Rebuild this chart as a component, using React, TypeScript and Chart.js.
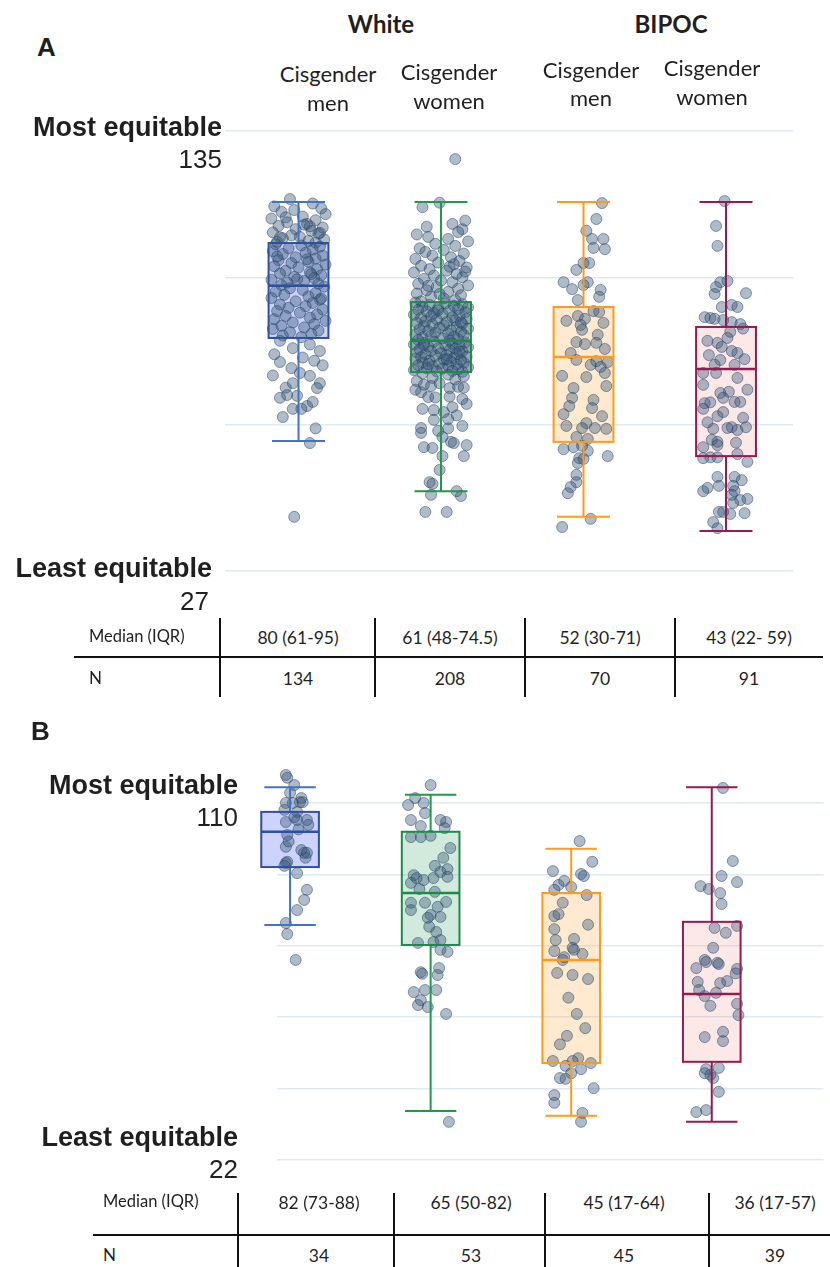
import React, { useEffect, useRef } from 'react';
import { Chart, registerables } from 'chart.js';

Chart.register(...registerables);

type Pt = [number, number];

// ---------- labels ----------
const raceHeaders = ['White', 'BIPOC'];
const genderHeaders: string[][] = [
  ['Cisgender', 'men'],
  ['Cisgender', 'women'],
  ['Cisgender', 'men'],
  ['Cisgender', 'women'],
];
const topAxisName = 'Most equitable';
const bottomAxisName = 'Least equitable';

// ---------- panel A ----------
const aTickValues = [27, 63, 99, 135];
const aTopLabel = '135';
const aBottomLabel = '27';
const aMin = [58.9, 46.6, 40.3, 36.8];
const aQ1 = [84.2, 75.8, 58.7, 55.2];
const aMed = [97.0, 83.5, 79.5, 76.6];
const aQ3 = [107.5, 93.0, 91.8, 86.9];
const aMax = [117.6, 117.6, 117.6, 117.6];
const aMedianIqr = ['80 (61-95)', '61 (48-74.5)', '52 (30-71)', '43 (22- 59)'];
const aN = ['134', '208', '70', '91'];

// jittered points: [x offset from group, value]
const aWhiteMen: Pt[] = [
  [-0.06, 118.3], [0.10, 117.2], [-0.17, 116.5], [0.16, 116.0], [-0.12, 115.2], [0.19, 114.6], [0.03, 114.0], [-0.19, 113.5],
  [0.12, 113.1], [-0.08, 112.6], [0.06, 112.2], [-0.14, 111.7], [0.17, 111.3], [-0.02, 110.9], [0.09, 110.5], [-0.18, 110.1],
  [0.14, 109.8], [-0.05, 109.4], [0.01, 109.0], [-0.11, 108.7], [0.18, 108.4], [0.07, 108.0], [-0.15, 107.8], [0.12, 107.6],
  [-0.09, 113.8], [0.04, 112.0], [-0.03, 115.6], [0.15, 110.0], [-0.13, 108.9], [0.08, 111.6],
  [-0.16, 107.2], [0.02, 106.9], [0.15, 106.6], [-0.07, 106.2], [0.10, 105.9], [-0.18, 105.5], [0.05, 105.1], [-0.11, 104.8],
  [0.17, 104.4], [-0.02, 104.0], [0.12, 103.7], [-0.14, 103.3], [0.07, 102.9], [-0.05, 102.6], [0.19, 102.2], [-0.17, 101.8],
  [0.00, 101.5], [0.13, 101.1], [-0.09, 100.7], [0.08, 100.3], [-0.13, 100.0], [0.16, 99.6], [-0.03, 99.2], [0.11, 98.9],
  [-0.19, 98.5], [0.04, 98.2], [-0.08, 97.8], [0.14, 97.5], [-0.12, 97.2], [0.06, 103.5], [-0.15, 104.2], [0.09, 99.9], [-0.01, 98.6],
  [0.18, 96.8], [-0.06, 96.4], [0.03, 96.0], [-0.16, 95.6], [0.12, 95.2], [-0.10, 94.8], [0.07, 94.4], [-0.19, 94.0],
  [0.15, 93.6], [-0.02, 93.2], [0.10, 92.8], [-0.13, 92.4], [0.05, 92.0], [-0.07, 91.6], [0.17, 91.2], [-0.15, 90.8],
  [0.01, 90.4], [0.13, 90.0], [-0.09, 89.6], [0.08, 89.2], [-0.17, 88.8], [0.19, 88.4], [-0.04, 88.0], [0.11, 87.6],
  [-0.12, 87.2], [0.04, 86.8], [-0.18, 86.4], [0.14, 86.0], [-0.06, 85.6], [0.09, 85.2], [-0.11, 84.8], [0.02, 84.4], [0.16, 93.9],
  [-0.13, 83.5], [0.08, 82.6], [-0.04, 81.7], [0.15, 81.0], [-0.17, 80.2], [0.03, 79.4], [0.11, 78.6], [-0.13, 78.3],
  [-0.05, 76.8], [0.01, 75.6], [0.08, 74.9], [0.15, 73.1], [-0.04, 73.1], [0.13, 71.9], [-0.08, 70.2], [-0.13, 69.5],
  [-0.01, 70.0], [0.06, 67.5], [-0.04, 66.8], [0.02, 66.8], [-0.11, 64.8], [0.17, 77.5], [-0.18, 75.0], [0.10, 68.5],
  [0.08, 58.4], [-0.03, 40.3], [0.12, 62.0], [-0.09, 72.0],
];
const aWhiteWomen: Pt[] = [
  [0.10, 128.1],
  [-0.13, 116.3], [-0.01, 117.4], [0.17, 113.0], [0.08, 112.2], [-0.10, 111.5], [0.15, 110.9], [0.12, 110.2], [-0.17, 109.6],
  [-0.09, 109.0], [0.05, 108.5], [0.19, 107.9], [-0.04, 107.3], [0.10, 106.8], [-0.15, 106.2], [0.02, 105.8], [-0.11, 105.3],
  [0.16, 104.9], [-0.06, 104.4], [0.07, 104.0], [-0.18, 103.6], [0.13, 103.1], [-0.02, 102.7], [0.09, 102.3], [-0.14, 101.9],
  [0.18, 101.5], [-0.08, 101.1], [0.04, 100.7], [-0.19, 100.3], [0.11, 99.9], [-0.05, 99.5], [0.15, 99.1], [-0.12, 98.7],
  [0.00, 98.3], [0.08, 97.9], [-0.16, 97.5], [0.19, 97.1], [-0.03, 96.7], [0.12, 96.3], [-0.10, 95.9], [0.05, 95.5],
  [-0.17, 95.1], [0.14, 94.7], [-0.07, 94.3], [0.02, 93.9], [0.10, 93.5], [-0.14, 93.2], [0.17, 100.5], [-0.09, 97.0], [0.06, 101.7], [-0.01, 95.0],
  [-0.18, 92.9], [0.03, 92.7], [0.15, 92.5], [-0.08, 92.3], [0.09, 92.1], [-0.13, 91.9], [0.19, 91.7], [-0.02, 91.5],
  [0.12, 91.3], [-0.16, 91.1], [0.06, 90.9], [-0.10, 90.7], [0.17, 90.5], [-0.05, 90.3], [0.01, 90.1], [-0.19, 89.9],
  [0.13, 89.7], [-0.07, 89.5], [0.08, 89.3], [-0.14, 89.1], [0.18, 88.9], [-0.03, 88.7], [0.10, 88.5], [-0.11, 88.3],
  [0.04, 88.1], [-0.17, 87.9], [0.15, 87.7], [-0.06, 87.5], [0.02, 87.3], [-0.12, 87.1], [0.11, 86.9], [-0.01, 86.7],
  [0.19, 86.5], [-0.15, 86.3], [0.07, 86.1], [-0.09, 85.9], [0.14, 85.7], [-0.04, 85.5], [0.05, 85.3], [-0.18, 85.1],
  [0.16, 84.9], [-0.07, 84.7], [0.09, 84.5], [-0.13, 84.3], [0.01, 84.1], [0.12, 83.9], [-0.16, 83.7], [0.06, 83.6], [-0.02, 91.0], [0.14, 88.0],
  [-0.05, 83.3], [0.17, 83.1], [-0.12, 83.0], [0.08, 82.8], [-0.19, 82.6], [0.03, 82.4], [0.13, 82.3], [-0.09, 82.1],
  [0.19, 81.9], [-0.02, 81.7], [0.10, 81.6], [-0.15, 81.4], [0.06, 81.2], [-0.07, 81.0], [0.15, 80.9], [-0.17, 80.7],
  [0.00, 80.5], [0.11, 80.3], [-0.11, 80.2], [0.04, 80.0], [-0.04, 79.8], [0.18, 79.6], [-0.14, 79.5], [0.09, 79.3],
  [-0.18, 79.1], [0.02, 78.9], [0.14, 78.8], [-0.08, 78.6], [0.07, 78.4], [-0.13, 78.2], [0.16, 78.1], [-0.01, 77.9],
  [0.11, 77.7], [-0.16, 77.5], [0.05, 77.4], [-0.06, 77.2], [0.19, 77.0], [-0.10, 76.8], [0.01, 76.7], [0.12, 76.5],
  [-0.19, 76.3], [0.08, 76.1], [-0.03, 76.0], [0.15, 75.9], [-0.12, 82.5], [0.04, 79.0], [-0.09, 77.8], [0.13, 80.8],
  [-0.13, 75.5], [0.05, 75.2], [0.16, 74.8], [-0.06, 74.4], [0.10, 74.0], [-0.17, 73.6], [-0.12, 72.7], [-0.07, 72.4],
  [-0.01, 73.1], [0.06, 71.9], [0.12, 72.2], [0.16, 72.0], [-0.14, 70.9], [-0.09, 69.7], [-0.04, 69.6], [0.06, 69.8],
  [0.15, 69.2], [-0.13, 66.8], [-0.05, 66.5], [0.02, 66.0], [0.08, 67.2], [-0.05, 64.1], [0.05, 64.3], [-0.14, 62.1],
  [-0.14, 60.9], [-0.02, 61.4], [0.05, 62.0], [0.15, 62.6], [0.01, 59.9], [0.07, 58.7], [0.09, 58.4], [0.18, 57.9],
  [-0.12, 57.4], [-0.06, 57.2], [0.16, 55.2], [0.01, 55.2], [-0.01, 51.8], [-0.08, 48.8], [-0.06, 48.4], [0.11, 46.6],
  [0.14, 45.4], [-0.07, 45.7], [-0.11, 41.5], [0.04, 41.5], [0.18, 68.0], [-0.18, 71.5], [0.11, 65.2],
];
const aBipocMen: Pt[] = [
  [0.13, 117.3], [0.09, 113.4], [0.02, 110.5], [0.06, 108.5], [0.14, 108.5], [0.07, 106.3], [0.15, 106.0], [0.00, 102.6],
  [0.04, 102.6], [-0.05, 100.9], [-0.14, 97.9], [-0.08, 96.2], [0.00, 97.2], [0.03, 97.9], [0.12, 96.0], [0.11, 94.3],
  [-0.04, 93.5], [0.07, 90.8], [0.11, 90.6], [-0.04, 89.6], [0.01, 88.9], [-0.12, 88.4], [0.14, 87.9], [-0.02, 87.4],
  [-0.01, 86.2], [-0.05, 83.2], [0.01, 82.7], [0.09, 83.0], [0.15, 81.5], [-0.05, 78.8], [0.09, 78.5], [0.17, 78.3],
  [0.05, 77.6], [0.12, 77.1], [0.15, 75.6], [-0.15, 74.9], [0.02, 74.6], [-0.07, 71.9], [-0.08, 69.5], [0.07, 69.0],
  [-0.10, 67.5], [0.06, 67.0], [-0.14, 65.5], [0.16, 72.4], [0.02, 63.3], [-0.12, 62.6], [-0.01, 62.1], [0.08, 62.1],
  [0.16, 61.9], [-0.05, 59.9], [0.03, 59.4], [-0.14, 56.9], [-0.07, 57.4], [-0.01, 57.7], [0.03, 56.5], [0.17, 55.2],
  [-0.03, 54.7], [0.00, 54.5], [-0.04, 53.5], [-0.05, 50.6], [-0.05, 48.8], [-0.09, 47.6], [-0.11, 46.1], [0.05, 39.8],
  [-0.15, 37.8], [0.10, 85.0], [-0.09, 80.5], [0.13, 65.0],
];
const aBipocWomen: Pt[] = [
  [-0.01, 117.8], [-0.07, 111.7], [-0.06, 106.8], [-0.04, 97.9], [0.01, 98.2], [-0.07, 96.7], [-0.08, 95.0], [0.14, 95.2],
  [-0.03, 91.8], [0.04, 92.3], [0.08, 91.8], [-0.15, 89.3], [-0.11, 89.1], [-0.08, 88.9], [-0.02, 88.6], [0.04, 88.1],
  [0.10, 87.6], [0.03, 85.7], [0.01, 84.2], [-0.13, 83.5], [-0.06, 83.0], [-0.03, 82.0], [0.04, 81.0], [0.08, 80.5],
  [0.13, 79.0], [-0.04, 78.8], [-0.08, 77.6], [0.06, 77.6], [-0.16, 75.6], [-0.07, 75.6], [0.08, 74.4], [-0.16, 72.7],
  [-0.04, 70.7], [0.02, 71.0], [-0.02, 69.5], [0.06, 68.5], [0.10, 68.5], [-0.15, 68.2], [-0.11, 68.4], [-0.16, 66.8],
  [-0.06, 65.0], [0.12, 64.6], [0.04, 62.3], [-0.09, 61.9], [0.01, 62.1], [0.08, 61.6], [0.14, 62.3], [-0.10, 59.2],
  [-0.06, 58.7], [-0.16, 57.4], [-0.06, 57.9], [0.08, 55.7], [-0.16, 54.7], [-0.11, 54.9], [-0.06, 54.9], [0.15, 53.8],
  [-0.06, 50.1], [0.06, 50.1], [0.11, 49.3], [-0.05, 47.9], [-0.13, 47.4], [-0.16, 46.6], [0.05, 47.9], [0.06, 46.6],
  [0.04, 45.7], [0.10, 44.4], [0.15, 44.7], [0.05, 43.7], [-0.05, 41.5], [0.03, 41.0], [-0.02, 41.5], [0.13, 41.2],
  [-0.09, 39.0], [-0.06, 37.5], [0.12, 86.5], [-0.12, 80.0], [0.15, 71.5], [-0.02, 66.0], [0.07, 58.5], [-0.13, 63.5],
];

// ---------- panel B ----------
const bTickValues = [22, 39.6, 57.2, 74.8, 92.4, 110];
const bTopLabel = '110';
const bBottomLabel = '22';
const bMin = [79.9, 34.1, 32.9, 31.4];
const bQ1 = [94.2, 75.0, 45.9, 46.2];
const bMed = [102.9, 87.8, 71.3, 62.9];
const bQ3 = [107.8, 102.9, 87.8, 80.7];
const bMax = [113.9, 112.0, 98.7, 113.9];
const bMedianIqr = ['82 (73-88)', '65 (50-82)', '45 (17-64)', '36 (17-57)'];
const bN = ['34', '53', '45', '39'];

const bWhiteMen: Pt[] = [
  [-0.03, 116.9], [-0.02, 116.2], [0.03, 114.4], [0.08, 111.2], [0.07, 110.2], [-0.03, 110.0], [0.02, 110.0], [0.09, 110.2],
  [-0.04, 108.3], [0.05, 107.8], [-0.03, 105.3], [0.05, 105.8], [0.12, 105.8], [0.13, 104.6], [-0.02, 102.1], [-0.03, 99.2],
  [0.08, 98.4], [0.10, 97.7], [0.12, 97.7], [-0.02, 95.5], [-0.03, 95.2], [0.05, 92.7], [0.12, 88.6], [0.10, 86.1],
  [0.05, 83.6], [-0.03, 80.4], [-0.02, 77.7], [0.04, 71.3], [0.00, 112.5], [0.06, 103.5], [-0.01, 100.5], [0.11, 96.5],
  [0.03, 106.5], [-0.04, 94.5],
];
const bWhiteWomen: Pt[] = [
  [0.00, 114.4], [-0.16, 109.5], [-0.11, 111.2], [-0.05, 110.0], [-0.04, 107.5], [-0.14, 105.8], [-0.07, 104.3], [0.07, 105.8],
  [0.11, 105.3], [0.10, 103.8], [-0.14, 101.6], [-0.07, 101.6], [0.00, 101.9], [0.14, 98.9], [0.03, 94.5], [0.12, 93.7],
  [-0.12, 92.2], [-0.10, 91.5], [-0.05, 91.0], [0.02, 91.5], [0.07, 93.0], [0.12, 91.8], [-0.14, 90.3], [0.03, 88.1],
  [-0.14, 85.4], [-0.04, 85.4], [0.05, 84.4], [0.11, 85.6], [-0.14, 83.6], [0.00, 82.4], [-0.02, 81.7], [0.07, 81.9],
  [0.04, 78.2], [-0.09, 75.5], [0.02, 75.7], [0.07, 76.2], [0.07, 73.8], [0.12, 73.3], [-0.07, 68.3], [0.06, 69.3],
  [-0.06, 67.9], [0.05, 67.6], [-0.12, 63.4], [-0.04, 63.9], [0.04, 63.9], [-0.07, 61.4], [-0.09, 60.2], [-0.02, 59.7],
  [0.11, 58.0], [0.13, 31.4], [-0.08, 88.8], [0.09, 96.5], [-0.01, 79.5],
];
const bBipocMen: Pt[] = [
  [0.06, 100.6], [0.15, 95.5], [-0.13, 93.2], [0.07, 92.5], [0.09, 92.0], [-0.05, 90.8], [-0.09, 89.8], [0.00, 89.3],
  [-0.12, 88.6], [0.11, 87.3], [-0.06, 85.4], [-0.12, 82.1], [-0.09, 82.6], [-0.12, 78.9], [-0.11, 76.2], [0.02, 76.5],
  [0.01, 74.3], [0.08, 72.8], [-0.12, 73.5], [-0.05, 72.0], [0.02, 73.8], [-0.06, 71.3], [-0.10, 68.1], [0.01, 67.6],
  [0.12, 66.6], [0.10, 54.5], [-0.03, 52.6], [-0.13, 46.4], [0.05, 47.1], [0.01, 46.4], [0.14, 45.9], [-0.04, 45.2],
  [0.07, 44.4], [0.00, 43.4], [-0.08, 42.2], [-0.04, 42.0], [0.16, 39.7], [-0.12, 38.0], [-0.12, 36.1], [0.08, 33.6],
  [0.07, 31.4], [-0.02, 62.0], [0.04, 58.0], [-0.08, 50.5], [0.12, 80.0],
];
const bBipocWomen: Pt[] = [
  [0.08, 113.7], [0.15, 95.7], [0.07, 92.0], [-0.08, 89.5], [-0.02, 88.8], [0.06, 87.8], [0.18, 90.5], [0.07, 85.1],
  [0.02, 79.2], [0.10, 78.0], [0.18, 79.7], [0.01, 74.3], [-0.05, 71.3], [0.04, 70.6], [-0.11, 69.3], [0.18, 69.1],
  [-0.04, 70.8], [0.05, 70.3], [0.17, 68.0], [-0.10, 65.9], [0.06, 65.6], [0.11, 66.1], [-0.09, 63.9], [0.03, 63.2],
  [-0.05, 62.4], [-0.01, 60.0], [0.18, 60.5], [0.19, 57.7], [-0.05, 52.3], [0.08, 53.6], [0.08, 51.3], [-0.04, 44.4],
  [0.05, 44.7], [-0.05, 43.4], [-0.01, 43.0], [0.01, 42.2], [0.05, 38.8], [-0.11, 33.8], [-0.04, 34.3],
];

// ---------- styles ----------
const boxLineColors = ['#2F50A0', '#1E8A48', '#FF9A1A', '#961A52'];
const whiskerColors = ['#4472C4', '#1E9A4C', '#FF9A1A', '#961A52'];
const boxFillColors = ['rgba(110,130,245,0.35)', 'rgba(30,150,75,0.2)', 'rgba(255,150,20,0.2)', 'rgba(240,100,100,0.15)'];
const pointFill = 'rgba(55,85,120,0.4)';
const pointBorder = 'rgba(35,65,100,0.5)';
const gridColor = 'rgba(205,222,230,0.65)';
const textColor = '#1f1f1f';
const sansCal = 'Lato, "Open Sans", sans-serif';
const sansArial = '"Liberation Sans", Arial, sans-serif';

function makeBoxPlugin(id: string, mins: number[], q1s: number[], meds: number[], q3s: number[], maxs: number[], boxW: number, capW: number) {
  return {
    id,
    beforeDatasetsDraw(chart: any) {
      const { ctx } = chart;
      const xs = chart.scales.x;
      const ys = chart.scales.y;
      ctx.save();
      meds.forEach((_m, i) => {
        const c = xs.getPixelForValue(i + 1);
        const hw = xs.getPixelForValue(i + 1 + boxW / 2) - c;
        const t = ys.getPixelForValue(q3s[i]);
        const b = ys.getPixelForValue(q1s[i]);
        ctx.fillStyle = boxFillColors[i];
        ctx.fillRect(c - hw, t, hw * 2, b - t);
      });
      ctx.restore();
    },
    afterDatasetsDraw(chart: any) {
      const { ctx } = chart;
      const xs = chart.scales.x;
      const ys = chart.scales.y;
      ctx.save();
      meds.forEach((m, i) => {
        const c = xs.getPixelForValue(i + 1);
        const hw = xs.getPixelForValue(i + 1 + boxW / 2) - c;
        const hc = xs.getPixelForValue(i + 1 + capW / 2) - c;
        const pMax = ys.getPixelForValue(maxs[i]);
        const pQ3 = ys.getPixelForValue(q3s[i]);
        const pMed = ys.getPixelForValue(m);
        const pQ1 = ys.getPixelForValue(q1s[i]);
        const pMin = ys.getPixelForValue(mins[i]);
        ctx.strokeStyle = whiskerColors[i];
        ctx.lineWidth = 2;
        ctx.beginPath();
        ctx.moveTo(c, pQ3); ctx.lineTo(c, pMax);
        ctx.moveTo(c - hc, pMax); ctx.lineTo(c + hc, pMax);
        ctx.moveTo(c, pQ1); ctx.lineTo(c, pMin);
        ctx.moveTo(c - hc, pMin); ctx.lineTo(c + hc, pMin);
        ctx.stroke();
        ctx.strokeStyle = boxLineColors[i];
        ctx.lineWidth = 2;
        ctx.strokeRect(c - hw, pQ3, hw * 2, pQ1 - pQ3);
        ctx.lineWidth = 2.5;
        ctx.beginPath();
        ctx.moveTo(c - hw, pMed); ctx.lineTo(c + hw, pMed);
        ctx.stroke();
      });
      ctx.restore();
    },
  };
}

type PanelProps = {
  top: number; height: number;
  padding: { left: number; right: number; top: number; bottom: number };
  xMin: number; xMax: number; yMin: number; yMax: number;
  ticks: number[]; groups: Pt[][];
  mins: number[]; q1s: number[]; meds: number[]; q3s: number[]; maxs: number[];
  boxW: number; capW: number; id: string;
};

function PanelChart(p: PanelProps) {
  const ref = useRef<HTMLCanvasElement>(null);
  useEffect(() => {
    const datasets = p.groups.map((g, gi) => ({
      label: 'group ' + (gi + 1),
      data: g.map(([dx, v]) => ({ x: gi + 1 + dx, y: v })),
      pointRadius: 5.5,
      pointHoverRadius: 5.5,
      backgroundColor: pointFill,
      borderColor: pointBorder,
      borderWidth: 1,
      clip: false as any,
    }));
    const chart = new Chart(ref.current as HTMLCanvasElement, {
      type: 'scatter',
      data: { datasets },
      options: {
        animation: false,
        responsive: false,
        maintainAspectRatio: false,
        events: [],
        layout: { padding: p.padding },
        plugins: { legend: { display: false }, tooltip: { enabled: false } },
        scales: {
          x: { type: 'linear', display: false, min: p.xMin, max: p.xMax },
          y: {
            type: 'linear',
            min: p.yMin,
            max: p.yMax,
            afterBuildTicks: (axis: any) => { axis.ticks = p.ticks.map((v) => ({ value: v })); },
            ticks: { display: false },
            grid: { color: gridColor, lineWidth: 1.5, drawTicks: false },
            border: { display: false },
          },
        },
      },
      plugins: [makeBoxPlugin(p.id, p.mins, p.q1s, p.meds, p.q3s, p.maxs, p.boxW, p.capW) as any],
    });
    return () => chart.destroy();
  }, []);
  return (
    <canvas
      ref={ref}
      width={830}
      height={p.height}
      style={{ position: 'absolute', left: 0, top: p.top, width: 830, height: p.height }}
    />
  );
}

type TxtProps = { x: number; y: number; size: number; bold?: boolean; align?: 'left' | 'center' | 'right'; font: string; children: any };
function Txt({ x, y, size, bold, align = 'center', font, children }: TxtProps) {
  const style: any = {
    position: 'absolute',
    top: y - size * 0.6,
    fontSize: size,
    lineHeight: `${size * 1.2}px`,
    fontWeight: bold ? 700 : 400,
    fontFamily: font,
    whiteSpace: 'nowrap',
    color: textColor,
  };
  if (align === 'left') style.left = x;
  else if (align === 'right') style.right = 830 - x;
  else { style.left = x; style.transform = 'translateX(-50%)'; }
  return <div style={style}>{children}</div>;
}

type TableProps = {
  labelX: number; lineX1: number; lineX2: number; lineY: number;
  vLines: number[]; vTop: number; vBottom: number;
  row1Y: number; row2Y: number; colX: number[];
  medians: string[]; ns: string[];
};
function StatTable(t: TableProps) {
  return (
    <>
      <div style={{ position: 'absolute', left: t.lineX1, top: t.lineY - 1.25, width: t.lineX2 - t.lineX1, height: 2.5, background: '#111' }} />
      {t.vLines.map((x, i) => (
        <div key={'v' + i} style={{ position: 'absolute', left: x - 0.75, top: t.vTop, width: 1.5, height: t.vBottom - t.vTop, background: '#111' }} />
      ))}
      <Txt x={t.labelX} y={t.row1Y} size={16.5} align="left" font={sansCal}>Median (IQR)</Txt>
      <Txt x={t.labelX} y={t.row2Y} size={17} align="left" font={sansCal}>N</Txt>
      {t.medians.map((m, i) => (
        <Txt key={'m' + i} x={t.colX[i]} y={t.row1Y} size={17.5} font={sansCal}>{m}</Txt>
      ))}
      {t.ns.map((n, i) => (
        <Txt key={'n' + i} x={t.colX[i]} y={t.row2Y} size={17.5} font={sansCal}>{n}</Txt>
      ))}
    </>
  );
}

const raceX = [381, 671];
const genderX = [328, 449, 591, 712];
const genderY1 = [74, 72, 70, 68];
const genderY2 = [103, 101, 98, 97];

export default function App() {
  return (
    <div style={{ position: 'absolute', left: 0, top: 0, width: 830, height: 1267, overflow: 'hidden', background: '#fff' }}>
      <PanelChart
        id="boxesA" top={100} height={500}
        padding={{ left: 225, right: 37, top: 31, bottom: 29 }}
        xMin={0.4842} xMax={4.47} yMin={27} yMax={135} ticks={aTickValues}
        groups={[aWhiteMen, aWhiteWomen, aBipocMen, aBipocWomen]}
        mins={aMin} q1s={aQ1} meds={aMed} q3s={aQ3} maxs={aMax} boxW={0.42} capW={0.372}
      />
      <PanelChart
        id="boxesB" top={700} height={480}
        padding={{ left: 277, right: 0, top: 70.5, bottom: 20 }}
        xMin={0.907} xMax={4.795} yMin={22} yMax={118} ticks={bTickValues}
        groups={[bWhiteMen, bWhiteWomen, bBipocMen, bBipocWomen]}
        mins={bMin} q1s={bQ1} meds={bMed} q3s={bQ3} maxs={bMax} boxW={0.41} capW={0.366}
      />

      {raceHeaders.map((r, i) => (
        <Txt key={r} x={raceX[i]} y={24} size={24} bold font={sansCal}>{r}</Txt>
      ))}
      {genderHeaders.map((g, i) => (
        <React.Fragment key={'g' + i}>
          <Txt x={genderX[i]} y={genderY1[i]} size={22} font={sansCal}>{g[0]}</Txt>
          <Txt x={genderX[i]} y={genderY2[i]} size={22} font={sansCal}>{g[1]}</Txt>
        </React.Fragment>
      ))}

      <Txt x={37} y={48} size={26} bold align="left" font={sansArial}>A</Txt>
      <Txt x={31} y={732} size={26} bold align="left" font={sansArial}>B</Txt>

      <Txt x={222} y={127} size={27} bold align="right" font={sansArial}>{topAxisName}</Txt>
      <Txt x={222} y={160} size={26} align="right" font={sansArial}>{aTopLabel}</Txt>
      <Txt x={212} y={568} size={27} bold align="right" font={sansArial}>{bottomAxisName}</Txt>
      <Txt x={209} y={602} size={26} align="right" font={sansArial}>{aBottomLabel}</Txt>

      <Txt x={238} y={785} size={27} bold align="right" font={sansArial}>{topAxisName}</Txt>
      <Txt x={238} y={818} size={26} align="right" font={sansArial}>{bTopLabel}</Txt>
      <Txt x={238} y={1137} size={27} bold align="right" font={sansArial}>{bottomAxisName}</Txt>
      <Txt x={238} y={1170} size={26} align="right" font={sansArial}>{bBottomLabel}</Txt>

      <StatTable
        labelX={89} lineX1={74} lineX2={823} lineY={657}
        vLines={[220, 375, 525, 675]} vTop={618} vBottom={697}
        row1Y={637} row2Y={678} colX={[298, 450, 600, 749]}
        medians={aMedianIqr} ns={aN}
      />
      <StatTable
        labelX={103} lineX1={93} lineX2={830} lineY={1235}
        vLines={[238, 394, 545, 709]} vTop={1193} vBottom={1267}
        row1Y={1202} row2Y={1255} colX={[319, 471, 624, 775]}
        medians={bMedianIqr} ns={bN}
      />
    </div>
  );
}
